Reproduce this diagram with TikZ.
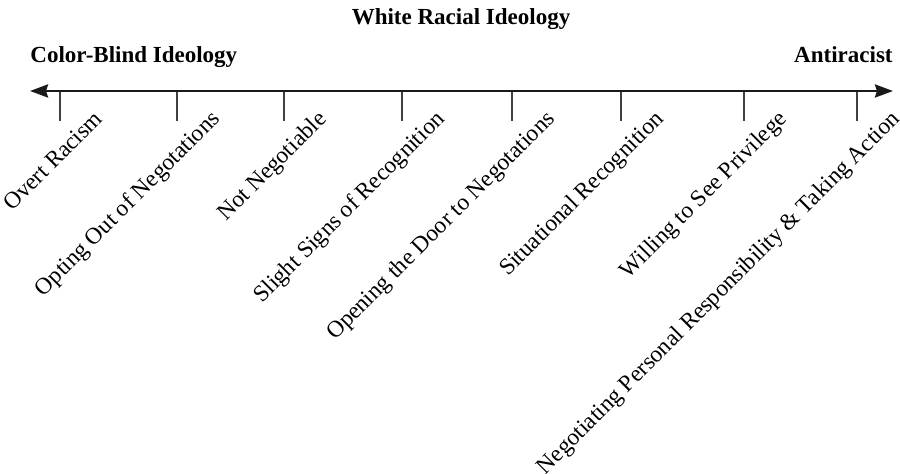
\documentclass[tikz,border=0pt]{standalone}
\usepackage{fontspec}
\setmainfont{Liberation Serif}
\usepackage{xcolor}
\usetikzlibrary{arrows.meta}

\begin{document}
\begin{tikzpicture}[x=0.5pt,y=-0.5pt,
  stage/.style={rotate=45,anchor=base east,inner sep=0pt,font=\fontsize{11.7}{14}\selectfont},
  pole/.style={inner sep=0pt,font=\fontsize{11.5}{14}\selectfont\bfseries}]
 \useasboundingbox (0,0) rectangle (900,474);

 \coordinate (l) at (30,91);
 \coordinate (r) at (893,91);

 \coordinate (t1) at (60,91);
 \coordinate (t2) at (177,91);
 \coordinate (t3) at (284,91);
 \coordinate (t4) at (402,91);
 \coordinate (t5) at (512,91);
 \coordinate (t6) at (621,91);
 \coordinate (t7) at (744,91);
 \coordinate (t8) at (857,91);

 \coordinate (b1) at (60,121);
 \coordinate (b2) at (177,121);
 \coordinate (b3) at (284,121);
 \coordinate (b4) at (402,121);
 \coordinate (b5) at (512,121);
 \coordinate (b6) at (621,121);
 \coordinate (b7) at (744,121);
 \coordinate (b8) at (857,121);


\draw[line width=0.8pt,black!75] (t1)--(b1);
\draw[line width=0.8pt,black!75] (t2)--(b2);
\draw[line width=0.8pt,black!75] (t3)--(b3);
\draw[line width=0.8pt,black!75] (t4)--(b4);
\draw[line width=0.8pt,black!75] (t5)--(b5);
\draw[line width=0.8pt,black!75] (t6)--(b6);
\draw[line width=0.8pt,black!75] (t7)--(b7);
\draw[line width=0.8pt,black!75] (t8)--(b8);

\draw[line width=1.4pt,black!90,{Stealth[length=9pt,width=6.5pt,inset=1pt]}-{Stealth[length=9pt,width=6.5pt,inset=1pt]}] (l)--(r);


\node [pole,anchor=base] (ttl) at (461,25) {White Racial Ideology};
\node [pole,anchor=base west] (cb) at (30,63) {Color-Blind Ideology};
\node [pole,anchor=base east] (ar) at (893,63) {Antiracist};

\node [stage] (s1) at ([xshift=22pt,yshift=0.5pt]b1) {Overt Racism};
\node [stage] (s2) at ([xshift=22pt,yshift=0.5pt]b2) {Opting Out of Negotations};
\node [stage] (s3) at ([xshift=22pt,yshift=0.5pt]b3) {Not Negotiable};
\node [stage] (s4) at ([xshift=22pt,yshift=0.5pt]b4) {Slight Signs of Recognition};
\node [stage] (s5) at ([xshift=22pt,yshift=0.5pt]b5) {Opening the Door to Negotations};
\node [stage] (s6) at ([xshift=22pt,yshift=0.5pt]b6) {Situational Recognition};
\node [stage] (s7) at ([xshift=22pt,yshift=0.5pt]b7) {Willing to See Privilege};
\node [stage] (s8) at ([xshift=22pt,yshift=0.5pt]b8) {Negotiating Personal Responsibility \& Taking Action};


\end{tikzpicture}
\end{document}
